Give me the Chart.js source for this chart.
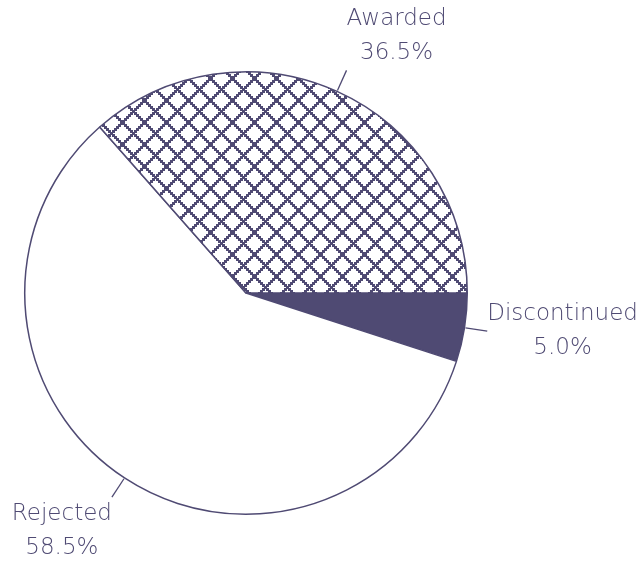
<!DOCTYPE html>
<html>
<head>
<meta charset="utf-8">
<script src="https://cdn.jsdelivr.net/npm/chart.js@4"></script>
<style>
  html, body { margin: 0; padding: 0; background: #fff; }
  #pie { display: block; }
</style>
</head>
<body>
<canvas id="pie" width="643" height="565"></canvas>
<script>
// slice data, clockwise from 3 o'clock
var labels = ['Discontinued', 'Rejected', 'Awarded'];
var shares = [5.0, 58.5, 36.5];

var ink = '#4f4a73';

// pixelly diamond hatch for the Awarded slice
function hatch() {
    var step = 2, n = 11;
    var c = document.createElement('canvas');
    c.width = c.height = step * n;
    var g = c.getContext('2d');
    g.fillStyle = '#fff';
    g.fillRect(0, 0, c.width, c.height);
    g.fillStyle = ink;
    function dot(x, y) {
        // wrap so the tile repeats cleanly
        for (var dx = -c.width; dx <= c.width; dx += c.width)
            for (var dy = -c.height; dy <= c.height; dy += c.height)
                g.fillRect(x + dx, y + dy, 3, 3);
    }
    for (var i = 0; i < n; i++) {
        dot(i * step, i * step);
        dot(i * step, ((n - i) % n) * step);
    }
    return document.getElementById('pie').getContext('2d').createPattern(c, 'repeat');
}

var fills = [ink, '#ffffff', hatch()];

// outside labels with short leader lines
var outsideLabels = {
    id: 'outsideLabels',
    afterDatasetsDraw(chart) {
        var ctx = chart.ctx;
        var meta = chart.getDatasetMeta(0);
        var total = shares.reduce((a, b) => a + b, 0);
        ctx.save();
        ctx.font = '200 23px "DejaVu Sans"';
        ctx.fillStyle = ink;
        ctx.strokeStyle = ink;
        ctx.lineWidth = 1.3;
        meta.data.forEach(function (arc, i) {
            var a = (arc.startAngle + arc.endAngle) / 2;
            var r = arc.outerRadius;
            var cx = Math.cos(a), sy = Math.sin(a);
            var x1 = arc.x + cx * (r + 1), y1 = arc.y + sy * (r + 1);
            var x2 = arc.x + cx * (r + 23), y2 = arc.y + sy * (r + 23);
            ctx.beginPath();
            ctx.moveTo(x1, y1);
            ctx.lineTo(x2, y2);
            ctx.stroke();

            var lines = [labels[i], (shares[i] / total * 100).toFixed(1) + '%'];
            var lh = 34;
            var w = Math.max.apply(null, lines.map(t => ctx.measureText(t).width));
            var h = lh * lines.length;
            var left = cx >= 0 ? x2 : x2 - w;
            var top;
            if (Math.abs(sy) < 0.5) top = y2 - h / 2;
            else if (sy < 0) top = y2 - h;
            else top = y2;
            ctx.textAlign = 'center';
            ctx.textBaseline = 'middle';
            lines.forEach(function (t, k) {
                ctx.fillText(t, left + w / 2, top + lh * (k + 0.5));
            });
        });
        ctx.restore();
    }
};

new Chart(document.getElementById('pie'), {
    type: 'pie',
    data: {
        labels: labels,
        datasets: [{
            data: shares,
            backgroundColor: fills,
            borderColor: ink,
            borderWidth: 1.5
        }]
    },
    options: {
        responsive: false,
        animation: false,
        rotation: 90,
        layout: { padding: { left: 24, right: 175, top: 71, bottom: 50 } },
        plugins: {
            legend: { display: false },
            tooltip: { enabled: false }
        }
    },
    plugins: [outsideLabels]
});
</script>
</body>
</html>
